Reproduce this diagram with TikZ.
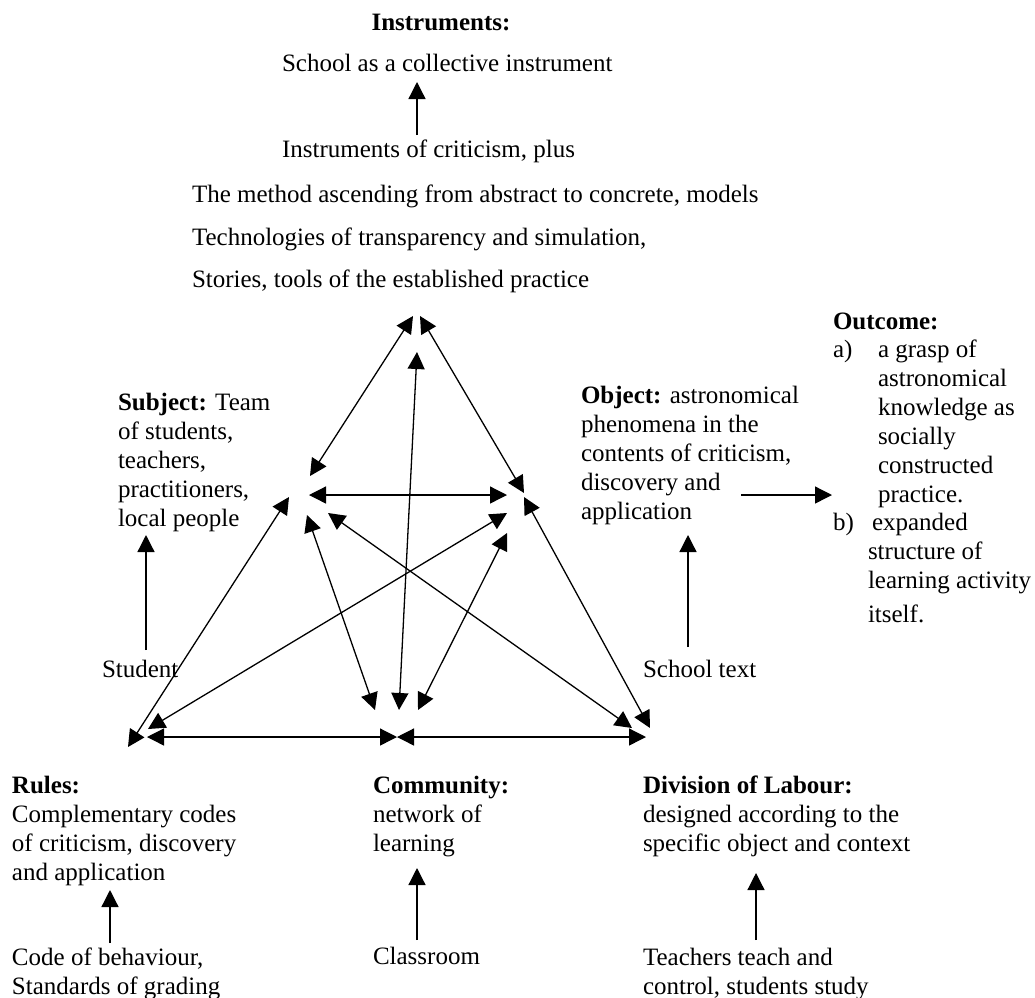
\documentclass[tikz,border=0pt]{standalone}
\usepackage{fontspec}
\setmainfont{Liberation Serif}
\usetikzlibrary{arrows.meta}
\newcommand{\mlines}[1]{\begin{tabular}[t]{@{}l@{}}#1\end{tabular}}
\begin{document}
\begin{tikzpicture}[x=1pt,y=-1pt,
  txt/.style={anchor=base west, inner sep=0pt, outer sep=0pt, font=\fontsize{25}{29}\selectfont},
  link/.style={line width=1.3pt, {Triangle[length=17pt,width=17pt]}-{Triangle[length=17pt,width=17pt]}},
  oneway/.style={line width=1.3pt, -{Triangle[length=17pt,width=17pt]}}]
\useasboundingbox (0,0) rectangle (1035,997);

% ---- Instruments
\node[txt, anchor=base] (instr) at (441,30) {\textbf{Instruments:}};
\node[txt] (school) at (282,71) {School as a collective instrument};
\node[txt] (critic) at (282,157) {Instruments of criticism, plus};
\node[txt] (method) at (192,202) {The method ascending from abstract to concrete, models};
\node[txt] (techn) at (192,245) {Technologies of transparency and simulation,};
\node[txt] (stories) at (192,287) {Stories, tools of the established practice};
\coordinate (ci1) at (417,135); \coordinate (ci2) at (417,82);
\draw[oneway] (ci1) -- (ci2);

% ---- Subject
\node[txt] (subject) at (118,410) {\mlines{\textbf{Subject:} Team\\of students,\\teachers,\\practitioners,\\local people}};
\node[txt] (student) at (102,677) {Student};
\coordinate (st1) at (146,650); \coordinate (st2) at (146,535);
\draw[oneway] (st1) -- (st2);

% ---- Object
\node[txt] (object) at (581,403) {\mlines{\textbf{Object:} astronomical\\phenomena in the\\contents of criticism,\\discovery and\\application}};
\node[txt] (stext) at (643,677) {School text};
\coordinate (sx1) at (688,647); \coordinate (sx2) at (688,535);
\draw[oneway] (sx1) -- (sx2);
\coordinate (oo1) at (741,495); \coordinate (oo2) at (832,495);
\draw[oneway] (oo1) -- (oo2);

% ---- Outcome
\node[txt] (outcome) at (833,329) {\textbf{Outcome:}};
\node[txt] (la) at (833,357) {a)};
\node[txt] (ta) at (878,357) {\mlines{a grasp of\\astronomical\\knowledge as\\socially\\constructed\\practice.}};
\node[txt] (lb) at (833,530) {b)};
\node[txt] (tb) at (868,530) {\mlines{\hspace*{4pt}expanded\\structure of\\learning activity\\[5pt]itself.}};

% ---- Rules
\node[txt] (rules) at (12,793) {\mlines{\textbf{Rules:}\\Complementary codes\\of criticism, discovery\\and application}};
\node[txt] (code) at (12,965) {\mlines{Code of behaviour,\\Standards of grading}};
\coordinate (r1) at (110,943); \coordinate (r2) at (110,890);
\draw[oneway] (r1) -- (r2);

% ---- Community
\node[txt] (comm) at (373,793) {\mlines{\textbf{Community:}\\network of\\learning}};
\node[txt] (class) at (373,964) {Classroom};
\coordinate (c1) at (417,940); \coordinate (c2) at (417,868);
\draw[oneway] (c1) -- (c2);

% ---- Division of labour
\node[txt] (div) at (643,793) {\mlines{\textbf{Division of Labour:}\\designed according to the\\specific object and context}};
\node[txt] (teach) at (643,965) {\mlines{Teachers teach and\\control, students study}};
\coordinate (d1) at (756,940); \coordinate (d2) at (756,873);
\draw[oneway] (d1) -- (d2);

% ---- Triangle end points
\coordinate (Ta) at (413,316); \coordinate (La) at (310,476);
\coordinate (Tb) at (420,316); \coordinate (Ra) at (524,493);
\coordinate (Lb) at (309,495); \coordinate (Rb) at (507,495);
\coordinate (Lc) at (289,497); \coordinate (BLa) at (128,747);
\coordinate (Rc) at (524,497); \coordinate (BRa) at (650,728);
\coordinate (BLb) at (147,737); \coordinate (BMa) at (397,737);
\coordinate (BMb) at (397,737); \coordinate (BRb) at (646,737);
\coordinate (Tc) at (417,352); \coordinate (BMc) at (399,710);
\coordinate (Ld) at (307,515); \coordinate (BMd) at (375,710);
\coordinate (Rd) at (507,533); \coordinate (BMe) at (418,710);
\coordinate (Le) at (328,513); \coordinate (BRc) at (632,728);
\coordinate (Re) at (507,513); \coordinate (BLc) at (148,729);

\draw[link] (Ta) -- (La);
\draw[link] (Tb) -- (Ra);
\draw[link] (Lb) -- (Rb);
\draw[link] (Lc) -- (BLa);
\draw[link] (Rc) -- (BRa);
\draw[link] (BLb) -- (BMa);
\draw[link] (BMb) -- (BRb);
\draw[link] (Tc) -- (BMc);
\draw[link] (Ld) -- (BMd);
\draw[link] (Rd) -- (BMe);
\draw[link] (Le) -- (BRc);
\draw[link] (Re) -- (BLc);
\end{tikzpicture}
\end{document}
